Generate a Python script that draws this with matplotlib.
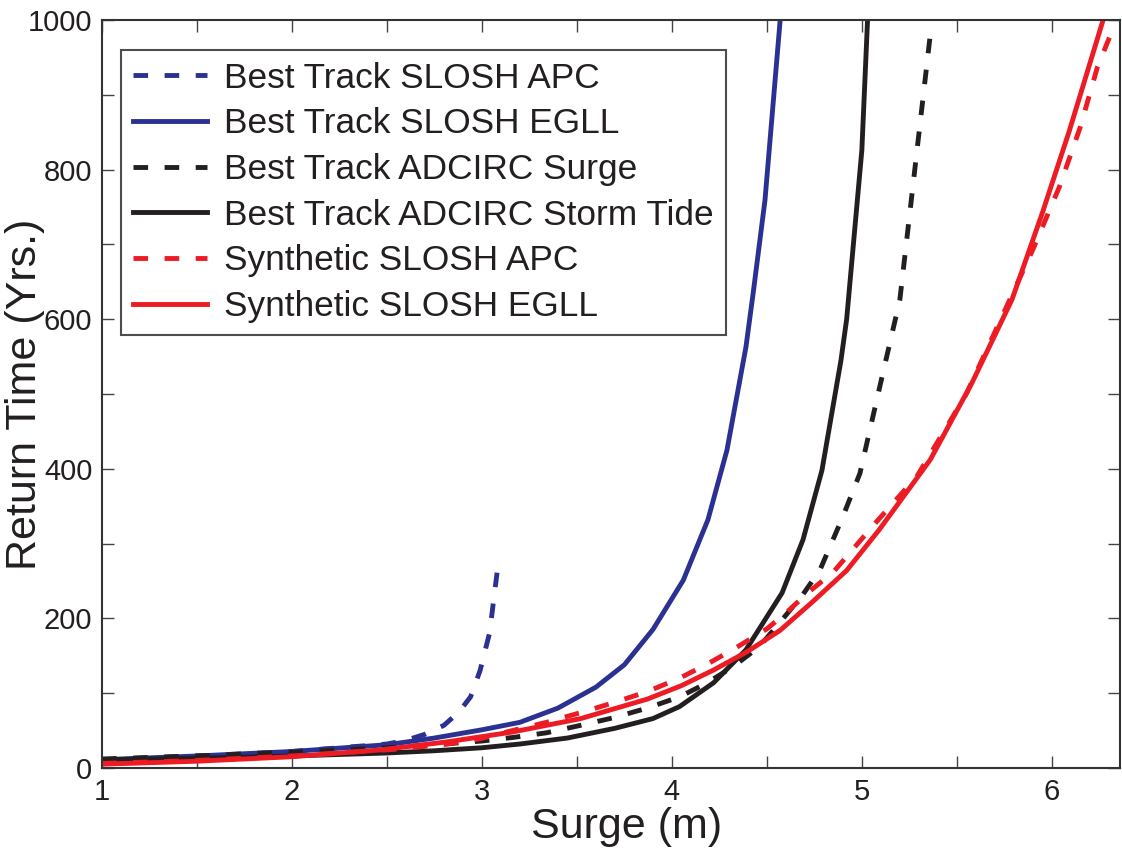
import matplotlib
matplotlib.use("Agg")
import matplotlib.pyplot as plt

plt.rcParams["font.family"] = ["Liberation Sans", "DejaVu Sans"]

BLUE = "#2b3192"
BLACK = "#231f20"
RED = "#ed1c24"

# return-time curves, surge (m) vs return time (yrs)
bt_slosh_apc_x = [1.0, 1.5, 2.0, 2.5, 2.6, 2.7, 2.8, 2.88, 2.94, 2.99, 3.04, 3.09]
bt_slosh_apc_y = [11, 16, 22, 32, 37, 45, 57, 75, 95, 130, 180, 282]

bt_slosh_egll_x = [1.0, 1.5, 2.0, 2.5, 2.75, 3.0, 3.2, 3.4, 3.6, 3.75, 3.9,
                   4.06, 4.19, 4.29, 4.39, 4.43, 4.49, 4.57]
bt_slosh_egll_y = [11, 16, 22, 31, 40, 51, 61, 80, 108, 138, 185,
                   251, 332, 425, 563, 639, 759, 1000]

bt_adcirc_surge_x = [1.0, 1.5, 2.0, 2.5, 2.75, 3.0, 3.17, 3.34, 3.52, 3.69,
                     3.87, 4.04, 4.18, 4.32, 4.46, 4.58, 4.69, 4.78, 4.9,
                     4.99, 5.09, 5.2, 5.36]
bt_adcirc_surge_y = [12, 16, 21, 27, 31, 36, 41, 47, 57, 67,
                     80, 95, 113, 135, 162, 198, 232, 265, 336,
                     394, 505, 626, 980]

bt_adcirc_tide_x = [1.0, 1.5, 2.0, 2.5, 2.75, 3.0, 3.2, 3.45, 3.7, 3.9, 4.04,
                    4.22, 4.39, 4.58, 4.69, 4.79, 4.89, 4.92, 5.0, 5.03]
bt_adcirc_tide_y = [11, 13, 16, 20, 23, 27, 32, 40, 53, 66, 82,
                    114, 158, 234, 305, 398, 545, 600, 826, 1000]

syn_slosh_apc_x = [1.0, 1.5, 2.0, 2.55, 2.82, 2.99, 3.16, 3.34, 3.52, 3.69,
                   3.87, 4.04, 4.18, 4.32, 4.5, 4.6, 4.71, 4.85, 5.08, 5.29,
                   5.55, 5.9, 6.04, 6.15, 6.24, 6.32]
syn_slosh_apc_y = [6, 10, 16, 25, 32, 39, 50, 61, 74, 87,
                   102, 120, 138, 158, 186, 207, 233, 262, 330, 390,
                   500, 693, 777, 857, 937, 987]

syn_slosh_egll_x = [1.0, 1.5, 2.0, 2.46, 2.82, 3.16, 3.52, 3.87, 4.05, 4.22,
                    4.4, 4.57, 4.74, 4.92, 5.09, 5.36, 5.58, 5.79, 5.95, 6.09,
                    6.27]
syn_slosh_egll_y = [5, 9, 15, 24, 35, 48, 66, 92, 110, 131,
                    156, 184, 222, 264, 318, 412, 515, 626, 742, 850,
                    1000]

x_ticks = [1, 1.5, 2, 2.5, 3, 3.5, 4, 4.5, 5, 5.5, 6]
y_ticks = list(range(0, 1001, 100))

fig = plt.figure(figsize=(11.22, 8.59), dpi=100)
ax = fig.add_axes([0.0909, 0.106, 0.9075, 0.8707])

lw = 3.5
dash = (0, (3.0, 3.4))
ax.plot(bt_slosh_apc_x, bt_slosh_apc_y, color=BLUE, lw=lw, ls=dash,
        label="Best Track SLOSH APC")
ax.plot(bt_slosh_egll_x, bt_slosh_egll_y, color=BLUE, lw=lw,
        label="Best Track SLOSH EGLL")
ax.plot(bt_adcirc_surge_x, bt_adcirc_surge_y, color=BLACK, lw=lw, ls=dash,
        label="Best Track ADCIRC Surge")
ax.plot(bt_adcirc_tide_x, bt_adcirc_tide_y, color=BLACK, lw=lw,
        label="Best Track ADCIRC Storm Tide")
ax.plot(syn_slosh_apc_x, syn_slosh_apc_y, color=RED, lw=lw, ls=dash,
        label="Synthetic SLOSH APC")
ax.plot(syn_slosh_egll_x, syn_slosh_egll_y, color=RED, lw=lw,
        label="Synthetic SLOSH EGLL")

ax.set_xlim(1, 6.36)
ax.set_ylim(0, 1000)
ax.set_xticks(x_ticks)
ax.set_xticklabels([str(int(t)) if t == int(t) else "" for t in x_ticks])
ax.set_yticks(y_ticks)
ax.set_yticklabels([str(t) if t % 200 == 0 else "" for t in y_ticks])
ax.tick_params(direction="in", length=8.5, width=1.0, color="#444444",
               labelsize=21, labelcolor=BLACK, top=True, right=True, pad=7)
for sp in ax.spines.values():
    sp.set_color("#333333")
    sp.set_linewidth(1.5)

ax.set_xlabel("Surge (m)", fontsize=31, color=BLACK)
ax.xaxis.set_label_coords(0.515, -0.052)
ax.set_ylabel("Return Time (Yrs.)", fontsize=31, color=BLACK)
ax.yaxis.set_label_coords(-0.056, 0.5)

leg = ax.legend(loc="upper left", bbox_to_anchor=(0.0187, 0.96),
                borderaxespad=0, fontsize=25.4, frameon=True, fancybox=False,
                handlelength=2.1, handletextpad=0.5, labelspacing=0.36,
                borderpad=0.33)
leg.get_frame().set_edgecolor(BLACK)
leg.get_frame().set_linewidth(1.5)
for t in leg.get_texts():
    t.set_color(BLACK)

fig.savefig("out.png", dpi=100)
